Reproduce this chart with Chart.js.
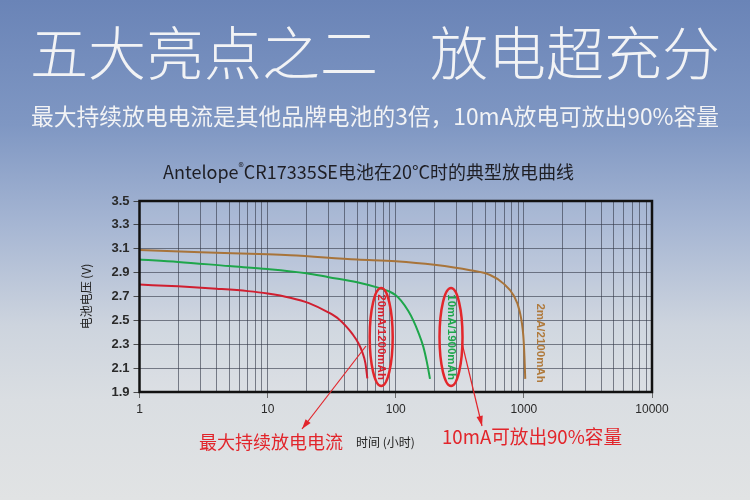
<!DOCTYPE html>
<html>
<head>
<meta charset="utf-8">
<script src="https://cdn.jsdelivr.net/npm/chart.js@4/dist/chart.umd.min.js"></script>
<style>
  html, body { margin: 0; padding: 0; background: #e1e3e4; }
  #wrap { width: 750px; height: 500px; }
</style>
</head>
<body>
<div id="wrap"><canvas id="curve"></canvas></div>
<script>
//----- DATA -----
var hours20mA = [1, 2, 4, 7, 10, 15, 21, 30, 36, 41, 46, 51, 55, 58, 60];
var volts20mA = [2.80, 2.785, 2.765, 2.745, 2.725, 2.69, 2.645, 2.565, 2.51, 2.45, 2.385, 2.31, 2.23, 2.14, 2.015];

var hours10mA = [1, 2, 5, 10, 20, 30, 50, 75, 90, 100, 110, 125, 137, 150, 164, 175, 185];
var volts10mA = [3.01, 2.99, 2.955, 2.93, 2.895, 2.862, 2.82, 2.77, 2.74, 2.71, 2.665, 2.58, 2.50, 2.40, 2.28, 2.15, 2.01];

var hours2mA = [1, 3, 10, 15, 50, 100, 200, 380, 545, 690, 830, 930, 990, 1010, 1025];
var volts2mA = [3.09, 3.07, 3.053, 3.045, 3.01, 2.995, 2.965, 2.92, 2.88, 2.81, 2.71, 2.57, 2.37, 2.2, 2.01];

var seriesNames = ['20mA/1200mAh', '10mA/1900mAh', '2mA/2100mAh'];
var xTickLabels = [1, 10, 100, 1000, 10000];
var yTickLabels = [1.9, 2.1, 2.3, 2.5, 2.7, 2.9, 3.1, 3.3, 3.5];

var colors = ['#d01f30', '#1ea64b', '#a8743a'];
var CJK = '"Noto Sans CJK SC", "Noto Sans", sans-serif';
var ARIAL = '"Liberation Sans", Arial, sans-serif';

function toPoints(xs, ys) {
  return xs.map(function (x, i) { return { x: x, y: ys[i] }; });
}

//grid ticks 1..9 per decade
function logGridTicks() {
  var out = [];
  for (var d = 0; d < xTickLabels.length - 1; d++) {
    for (var k = 1; k < 10; k++) out.push({ value: k * xTickLabels[d] });
  }
  out.push({ value: xTickLabels[xTickLabels.length - 1] });
  return out;
}

function arrow(ctx, x1, y1, x2, y2) {
  ctx.beginPath();
  ctx.moveTo(x1, y1);
  ctx.lineTo(x2, y2);
  ctx.stroke();
  var a = Math.atan2(y2 - y1, x2 - x1), L = 10, w = 3.2;
  ctx.beginPath();
  ctx.moveTo(x2, y2);
  ctx.lineTo(x2 - L * Math.cos(a) + w * Math.sin(a), y2 - L * Math.sin(a) - w * Math.cos(a));
  ctx.lineTo(x2 - L * Math.cos(a) - w * Math.sin(a), y2 - L * Math.sin(a) + w * Math.cos(a));
  ctx.closePath();
  ctx.fill();
}

function vLabel(ctx, text, x, y, color) {
  ctx.save();
  ctx.translate(x, y);
  ctx.rotate(Math.PI / 2);
  ctx.fillStyle = color;
  ctx.font = 'bold 11.5px ' + ARIAL;
  ctx.textAlign = 'center';
  ctx.textBaseline = 'middle';
  ctx.fillText(text, 0, 0);
  ctx.restore();
}

var decor = {
  id: 'decor',
  beforeDraw: function (chart) {
    var ctx = chart.ctx, a = chart.chartArea;
    ctx.save();
    var g = ctx.createLinearGradient(0, 0, 0, chart.height);
    g.addColorStop(0, '#6a84b7');
    g.addColorStop(0.25, '#7f97c3');
    g.addColorStop(0.45, '#a6b6d3');
    g.addColorStop(0.65, '#cdd4de');
    g.addColorStop(0.8, '#dadee2');
    g.addColorStop(1, '#e1e3e4');
    ctx.fillStyle = g;
    ctx.fillRect(0, 0, chart.width, chart.height);
    ctx.fillStyle = 'rgba(255,255,255,0.08)';
    ctx.fillRect(a.left, a.top, a.right - a.left, a.bottom - a.top);

    //big title
    ctx.fillStyle = '#f2f3f5';
    ctx.textBaseline = 'middle';
    ctx.font = '300 58px ' + CJK;
    ctx.textAlign = 'left';
    ctx.fillText('五大亮点之二', 30, 53, 358);
    ctx.textAlign = 'right';
    ctx.fillText('放电超充分', 720, 53, 296);

    //subtitle
    ctx.font = '23px ' + CJK;
    ctx.textAlign = 'left';
    ctx.fillText('最大持续放电电流是其他品牌电池的3倍，10mA放电可放出90%容量', 31, 116, 688);

    //chart title
    ctx.fillStyle = '#1e1e24';
    ctx.font = '18px ' + CJK;
    var x0 = 163, t1 = 'Antelope', t2 = 'CR17335SE电池在20°C时的典型放电曲线';
    ctx.fillText(t1, x0, 172);
    var w1 = ctx.measureText(t1).width;
    ctx.font = '11px ' + CJK;
    ctx.fillText('®', x0 + w1, 167);
    var wr = ctx.measureText('®').width;
    ctx.font = '18px ' + CJK;
    ctx.fillText(t2, x0 + w1 + wr, 172, 585 - (x0 + w1 + wr));
    ctx.restore();
  },
  afterDraw: function (chart) {
    var ctx = chart.ctx, a = chart.chartArea;
    var xs = chart.scales.x, ys = chart.scales.y;
    ctx.save();
    //plot frame
    ctx.strokeStyle = '#111';
    ctx.lineWidth = 2.5;
    ctx.strokeRect(a.left, a.top, a.right - a.left, a.bottom - a.top);

    //curve labels + ellipses
    var p1 = { x: xs.getPixelForValue(77), y: ys.getPixelForValue(2.36) };
    var p2 = { x: xs.getPixelForValue(270), y: ys.getPixelForValue(2.36) };
    var p3 = { x: xs.getPixelForValue(1340), y: ys.getPixelForValue(2.31) };
    vLabel(ctx, seriesNames[0], p1.x, p1.y, '#d8202c');
    vLabel(ctx, seriesNames[1], p2.x, p2.y, colors[1]);
    vLabel(ctx, seriesNames[2], p3.x, p3.y, '#b07a3c');

    ctx.strokeStyle = '#e3262b';
    ctx.lineWidth = 2.5;
    [p1, p2].forEach(function (p) {
      ctx.beginPath();
      ctx.ellipse(p.x, p.y, 11.5, 49, 0, 0, Math.PI * 2);
      ctx.stroke();
    });

    //arrows
    ctx.strokeStyle = '#e2252b';
    ctx.fillStyle = '#e2252b';
    ctx.lineWidth = 1.2;
    arrow(ctx, 366, 346, 302, 429);
    arrow(ctx, 462, 343, 482, 426);

    //notes under the chart
    ctx.textBaseline = 'middle';
    ctx.textAlign = 'left';
    ctx.fillStyle = '#e2252b';
    ctx.font = '18px ' + CJK;
    ctx.fillText('最大持续放电电流', 199, 442, 146);
    ctx.font = '19px ' + CJK;
    ctx.fillText('10mA可放出90%容量', 442, 437, 180);
    ctx.fillStyle = '#222';
    ctx.font = '12px ' + CJK;
    ctx.fillText('时间 (小时)', 356, 442);
    ctx.restore();
  }
};

var ctxCurve = document.getElementById('curve').getContext('2d');
var chart = new Chart(ctxCurve, {
  type: 'line',
  data: {
    datasets: [0, 1, 2].map(function (i) {
      var hs = [hours20mA, hours10mA, hours2mA][i];
      var vs = [volts20mA, volts10mA, volts2mA][i];
      return {
        label: seriesNames[i],
        data: toPoints(hs, vs),
        borderColor: colors[i],
        borderWidth: 2,
        pointRadius: 0,
        fill: false,
        cubicInterpolationMode: 'monotone'
      };
    })
  },
  options: {
    responsive: true,
    maintainAspectRatio: false,
    animation: false,
    layout: { padding: { left: 79.5, right: 98, top: 201, bottom: 78 } },
    plugins: { legend: { display: false }, tooltip: { enabled: false }, title: { display: false } },
    scales: {
      x: {
        type: 'logarithmic',
        min: 1,
        max: 10000,
        afterBuildTicks: function (s) { s.ticks = logGridTicks(); },
        afterFit: function (s) { s.height = 30; },
        border: { display: false },
        grid: {
          color: 'rgba(50,55,70,0.6)',
          lineWidth: 1,
          tickLength: 6,
          tickColor: function (c) {
            return xTickLabels.indexOf(c.tick.value) >= 0 ? 'rgba(60,60,60,0.7)' : 'rgba(0,0,0,0)';
          }
        },
        ticks: {
          autoSkip: false,
          maxRotation: 0,
          padding: 4,
          color: '#2a2a2a',
          font: { family: ARIAL, size: 12 },
          callback: function (v) { return xTickLabels.indexOf(v) >= 0 ? String(v) : ''; }
        }
      },
      y: {
        min: 1.9,
        max: 3.5,
        afterBuildTicks: function (s) { s.ticks = yTickLabels.map(function (v) { return { value: v }; }); },
        afterFit: function (s) { s.width = 60; },
        border: { display: false },
        grid: { color: 'rgba(50,55,70,0.6)', lineWidth: 1, tickLength: 6, tickColor: 'rgba(40,40,40,0.8)' },
        ticks: {
          padding: 4,
          color: '#2a2a2a',
          font: { family: ARIAL, size: 13, weight: 'bold' },
          callback: function (v) { return Number(v).toFixed(1); }
        },
        title: {
          display: true,
          text: '电池电压 (V)',
          color: '#222',
          padding: { top: 0, bottom: 6 },
          font: { family: CJK, size: 12 }
        }
      }
    }
  },
  plugins: [decor]
});
</script>
</body>
</html>
